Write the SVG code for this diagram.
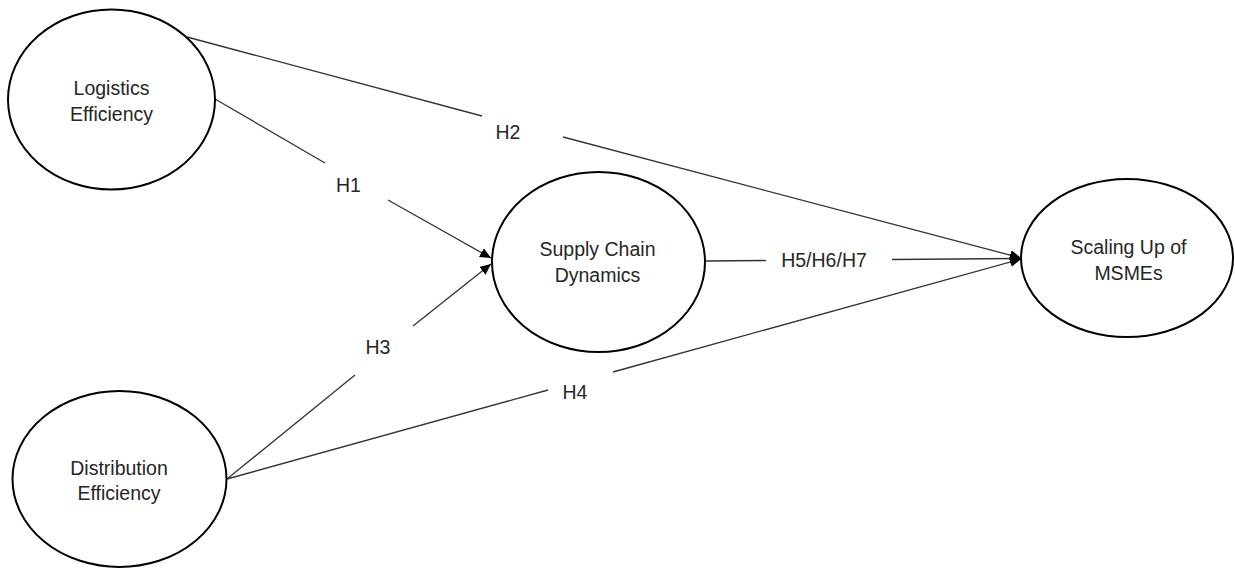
<svg xmlns="http://www.w3.org/2000/svg" width="1235" height="568" viewBox="0 0 1235 568">
<style>
.node{fill:#fff;stroke:#000;stroke-width:2}
.lbl{font-family:"Liberation Sans",Arial,sans-serif;font-size:19.5px;fill:#262626;text-anchor:middle}
.edge{stroke:#333;stroke-width:1.3;fill:none}
</style>
<defs>
<marker id="arr" markerUnits="userSpaceOnUse" markerWidth="12" markerHeight="10" refX="11" refY="5" orient="auto">
<path d="M0,0 L11,5 L0,10 Z" fill="#000"/>
</marker>
</defs>
<rect width="1235" height="568" fill="#fff"/>
<g id="connectors">
<g id="e-h1">
<line class="edge" x1="215" y1="99" x2="325" y2="163"/>
<line class="edge" x1="388" y1="200" x2="491" y2="258" marker-end="url(#arr)"/>
<text class="lbl" x="348.5" y="192">H1</text>
</g>
<g id="e-h2">
<line class="edge" x1="187" y1="37" x2="482" y2="116"/>
<line class="edge" x1="563" y1="137" x2="1021" y2="258" marker-end="url(#arr)"/>
<text class="lbl" x="508" y="138.5">H2</text>
</g>
<g id="e-h3">
<line class="edge" x1="227" y1="479" x2="355" y2="375"/>
<line class="edge" x1="413" y1="326" x2="491" y2="264" marker-end="url(#arr)"/>
<text class="lbl" x="378" y="354">H3</text>
</g>
<g id="e-h4">
<line class="edge" x1="227" y1="479" x2="548" y2="390"/>
<line class="edge" x1="613" y1="372" x2="1021" y2="259" marker-end="url(#arr)"/>
<text class="lbl" x="575" y="399">H4</text>
</g>
<g id="e-h5">
<line class="edge" x1="705" y1="261" x2="766" y2="260.5"/>
<line class="edge" x1="892" y1="259.5" x2="1021" y2="258.5" marker-end="url(#arr)"/>
<text class="lbl" x="824" y="266.5">H5/H6/H7</text>
</g>
</g>
<g id="logistics">
<ellipse class="node" cx="111.5" cy="99.5" rx="103.5" ry="90"/>
<text class="lbl" x="111.5" y="95">Logistics</text>
<text class="lbl" x="111.5" y="121">Efficiency</text>
</g>
<g id="distribution">
<ellipse class="node" cx="119.5" cy="479" rx="107" ry="88"/>
<text class="lbl" x="119" y="475">Distribution</text>
<text class="lbl" x="119" y="500">Efficiency</text>
</g>
<g id="supply">
<ellipse class="node" cx="598.5" cy="262" rx="106.5" ry="90"/>
<text class="lbl" x="597.5" y="256">Supply Chain</text>
<text class="lbl" x="597.5" y="281.5">Dynamics</text>
</g>
<g id="scaling">
<ellipse class="node" cx="1127" cy="258" rx="106" ry="79"/>
<text class="lbl" x="1128.5" y="254">Scaling Up of</text>
<text class="lbl" x="1128.5" y="279.5">MSMEs</text>
</g>
</svg>
